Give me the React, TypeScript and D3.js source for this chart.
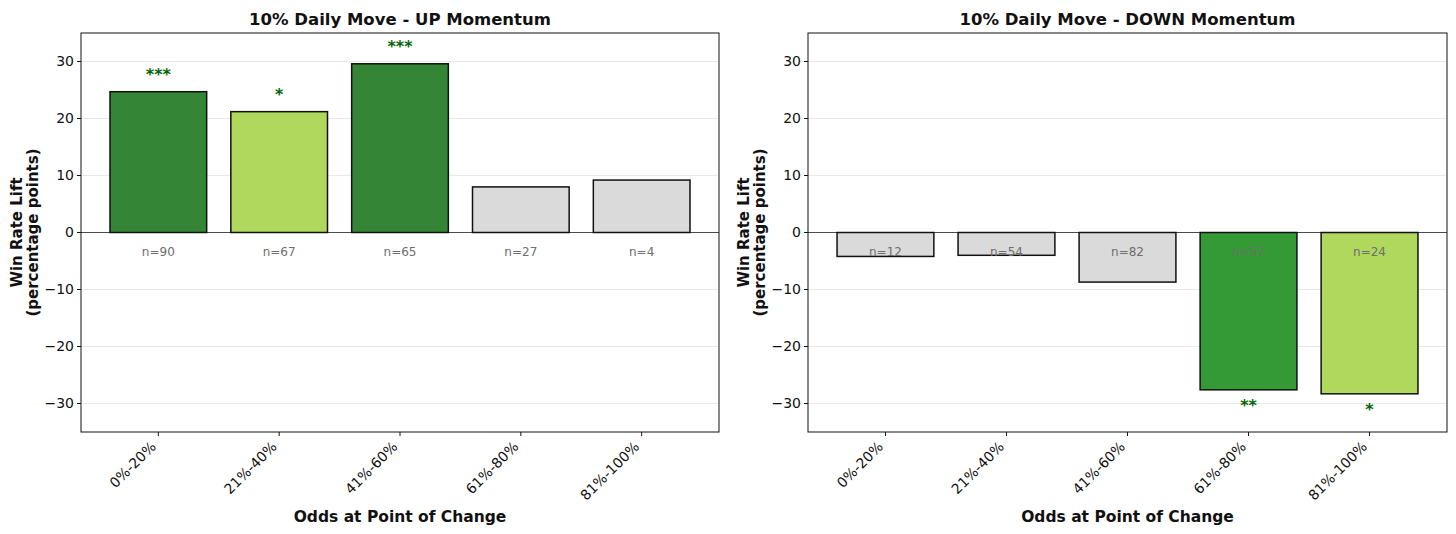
import React from "react";
import * as d3 from "d3";

const categories = ["0%-20%", "21%-40%", "41%-60%", "61%-80%", "81%-100%"];
const upValues = [24.7, 21.2, 29.6, 8.0, 9.2];
const upN = [90, 67, 65, 27, 4];
const upStars = ["***", "*", "***", "", ""];
const downValues = [-4.2, -4.0, -8.7, -27.6, -28.3];
const downN = [12, 54, 82, 57, 24];
const downStars = ["", "", "", "**", "*"];
const yTicks = [-30, -20, -10, 0, 10, 20, 30];

const starColor: Record<string, string> = {
  "***": "#348535",
  "**": "#339a35",
  "*": "#afd85c",
  "": "#dadada",
};

const W = 1456;
const H = 534;
const FONT = "DejaVu Sans, sans-serif";

interface PanelProps {
  left: number;
  right: number;
  title: string;
  values: number[];
  ns: number[];
  stars: string[];
}

function Panel({ left, right, title, values, ns, stars }: PanelProps) {
  const top = 33;
  const bottom = 432;
  const x = d3.scaleLinear().domain([-0.64, 4.64]).range([left, right]);
  const y = d3.scaleLinear().domain([-35, 35]).range([bottom, top]);
  const bw = x(0.8) - x(0);
  const cx = (left + right) / 2;
  return (
    <g fontFamily={FONT}>
      {yTicks.map((t) => (
        <line key={"g" + t} x1={left} x2={right} y1={y(t)} y2={y(t)} stroke="#e8e8e8" strokeWidth={1} />
      ))}
      <line x1={left - 4} x2={right} y1={y(0)} y2={y(0)} stroke="#222" strokeWidth={0.8} />
      {values.map((v, i) => (
        <rect
          key={"b" + i}
          x={x(i) - bw / 2}
          y={Math.min(y(v), y(0))}
          width={bw}
          height={Math.abs(y(v) - y(0))}
          fill={starColor[stars[i]]}
          stroke="#111"
          strokeWidth={1.5}
        />
      ))}
      {ns.map((n, i) => (
        <text key={"n" + i} x={x(i)} y={y(-3.3)} dy="0.35em" textAnchor="middle" fontSize={12} fill="#6e6e6e">
          {"n=" + n}
        </text>
      ))}
      {stars.map((s, i) =>
        s ? (
          <text
            key={"s" + i}
            x={x(i)}
            y={values[i] > 0 ? y(values[i]) - 12 : y(values[i]) + 21}
            textAnchor="middle"
            fontSize={16}
            fontWeight="bold"
            fill="#006400"
          >
            {s}
          </text>
        ) : null
      )}
      <rect x={left} y={top} width={right - left} height={bottom - top} fill="none" stroke="#111" strokeWidth={1} />
      {yTicks.map((t) => (
        <g key={"t" + t}>
          <line x1={left - 4} x2={left} y1={y(t)} y2={y(t)} stroke="#111" />
          <text x={left - 7} y={y(t)} dy="0.35em" textAnchor="end" fontSize={14} fill="#111">
            {t < 0 ? "\u2212" + Math.abs(t) : String(t)}
          </text>
        </g>
      ))}
      {categories.map((c, i) => (
        <g key={"c" + i}>
          <line x1={x(i)} x2={x(i)} y1={bottom} y2={bottom + 4} stroke="#111" />
          <text
            transform={`translate(${x(i) - 5},${bottom + 12}) rotate(-45)`}
            textAnchor="end"
            dy="0.35em"
            fontSize={14}
            fill="#111"
          >
            {c}
          </text>
        </g>
      ))}
      <text x={cx} y={25} textAnchor="middle" fontSize={16.5} fontWeight="bold" fill="#111">
        {title}
      </text>
      <text x={cx} y={522} textAnchor="middle" fontSize={15.5} fontWeight="bold" fill="#111">
        Odds at Point of Change
      </text>
      <text
        transform={`translate(${left - 59},${(top + bottom) / 2}) rotate(-90)`}
        textAnchor="middle"
        fontSize={15}
        fontWeight="bold"
        fill="#111"
      >
        <tspan x={0} dy="0">Win Rate Lift</tspan>
        <tspan x={0} dy="1.05em">(percentage points)</tspan>
      </text>
    </g>
  );
}

export default function App() {
  return (
    <svg width={W} height={H} style={{ position: "absolute", left: 0, top: 0, background: "#fff" }}>
      <rect width={W} height={H} fill="#fff" />
      <Panel left={81} right={719} title="10% Daily Move - UP Momentum" values={upValues} ns={upN} stars={upStars} />
      <Panel left={808} right={1447} title="10% Daily Move - DOWN Momentum" values={downValues} ns={downN} stars={downStars} />
    </svg>
  );
}
